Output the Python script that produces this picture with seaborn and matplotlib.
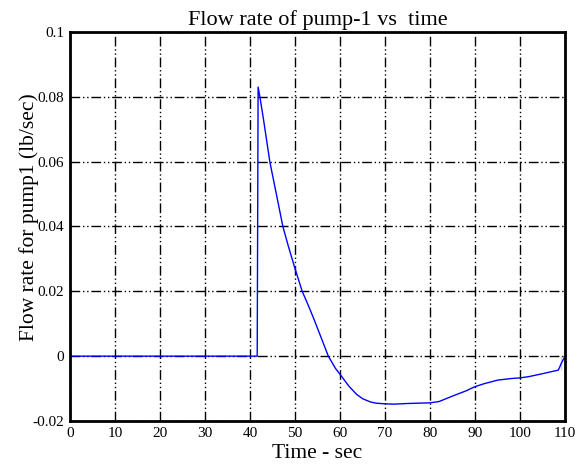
import matplotlib
matplotlib.use("Agg")
import matplotlib.pyplot as plt
import seaborn as sns
import pandas as pd

##################
#Data#############
##################

time_sec = [0, 41.6, 41.6, 41.8, 42.2, 43.0, 44.4, 46.0, 47.3, 48.5, 50.0, 51.6,
            53.0, 54.1, 55.5, 57.4, 59.0, 60.0, 62.0, 63.7, 65.0, 66.7, 68.0,
            70.0, 72.0, 75.0, 80.0, 82.0, 85.0, 88.0, 90.0, 92.0, 95.0, 98.0,
            100.0, 102.0, 105.0, 108.5, 109.2, 109.2, 110.0]
flow_rate = [0, 0, 0, 0.083, 0.080, 0.073, 0.060, 0.049, 0.040, 0.034, 0.027, 0.020,
             0.0155, 0.0118, 0.0068, 0.0, -0.0038, -0.0056, -0.0093, -0.0118, -0.0131,
             -0.0141, -0.0145, -0.0147, -0.0148, -0.0146, -0.0144, -0.0140, -0.0123,
             -0.0107, -0.0094, -0.0085, -0.0074, -0.0069, -0.0067, -0.0063, -0.0054,
             -0.0043, -0.0042, 0.0, 0.0]

x_ticks = [0, 10, 20, 30, 40, 50, 60, 70, 80, 90, 100, 110]
y_ticks = [-0.02, 0, 0.02, 0.04, 0.06, 0.08, 0.1]
y_labels = ["-0.02", "0", "0.02", "0.04", "0.06", "0.08", "0.1"]

df = pd.DataFrame({"t": time_sec, "q": flow_rate})

##################
#Plot#############
##################

sns.set_style("white")
plt.rcParams['font.family'] = ['Liberation Serif', 'DejaVu Serif']
plt.rcParams['text.color'] = 'black'
plt.rcParams['axes.labelcolor'] = 'black'

fig = plt.figure(figsize=(5.88, 4.67), dpi=100)
ax = fig.add_axes([0.119, 0.0985, 0.842, 0.833])

sns.lineplot(data=df, x="t", y="q", sort=False, color="#0000ff", linewidth=1.0, ax=ax)

ax.set_xlim(0, 110)
ax.set_ylim(-0.02, 0.1)
ax.set_xticks(x_ticks)
ax.set_yticks(y_ticks)
ax.set_yticklabels(y_labels)

grid_style = (0, (7, 2, 1, 2, 1, 2))
ax.grid(True, color="black", linestyle=grid_style, linewidth=1.0)
ax.set_axisbelow(True)

for sp in ax.spines.values():
    sp.set_visible(True)
    sp.set_color("black")
    sp.set_linewidth(2.0)

ax.tick_params(direction="in", length=4, width=1, colors="black", labelsize=11, pad=4)

ax.set_title("Flow rate of pump-1 vs  time", fontsize=16, pad=5, color="black")
ax.set_xlabel("Time - sec", fontsize=15.5, labelpad=3, color="black")
ax.set_ylabel("Flow rate for pump1 (lb/sec)", fontsize=15.5, color="black")
ax.yaxis.set_label_coords(-0.062, 0.524)

plt.savefig("out.png", dpi=100)
plt.close()
